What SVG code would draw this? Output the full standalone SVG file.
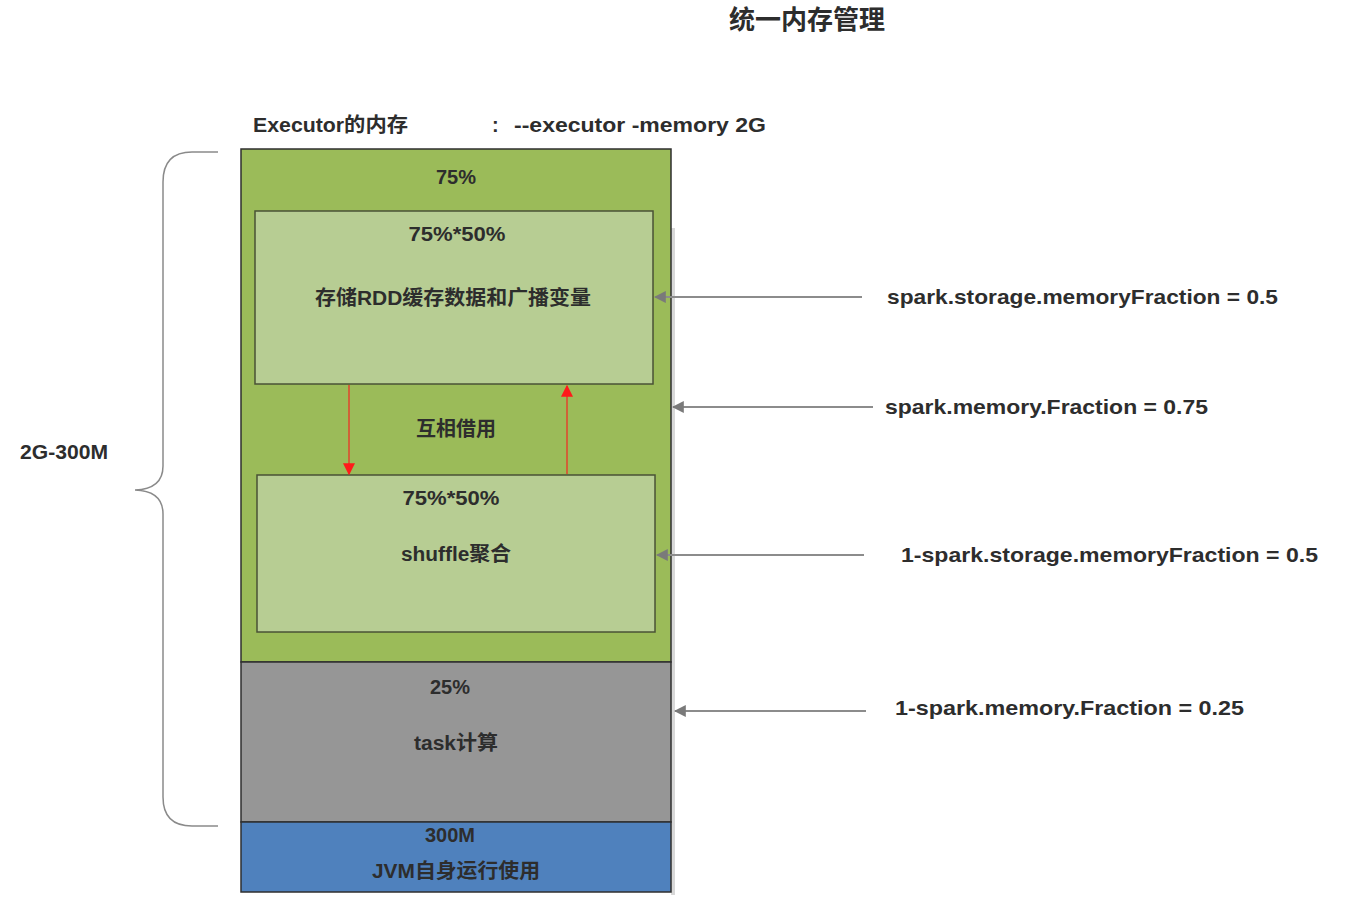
<svg xmlns="http://www.w3.org/2000/svg" width="1362" height="902" viewBox="0 0 1362 902">
<style>
text{font-family:"Liberation Sans","Noto Sans CJK SC",sans-serif;font-weight:bold;fill:#2d2d2d;font-size:20px}
.c{text-anchor:middle}
.lbl{font-size:21px}
.sec{stroke:#2f2f2f;stroke-width:1.5}
.inner{fill:#B7CD93;stroke:#4a5236;stroke-width:1.5}
.ga{stroke:#8c8c8c;stroke-width:2;fill:none;marker-end:url(#ga)}
.ra{stroke:#e0442c;stroke-width:1.5;fill:none;marker-end:url(#ra)}
</style>
<defs>
<marker id="ga" viewBox="0 0 10 10" refX="9" refY="5" markerWidth="6" markerHeight="6" markerUnits="strokeWidth" orient="auto"><path d="M0,0 L10,5 L0,10 Z" fill="#7a7a7a"/></marker>
<marker id="ra" viewBox="0 0 10 10" refX="9" refY="5" markerWidth="8" markerHeight="8" markerUnits="strokeWidth" orient="auto"><path d="M0,0 L10,5 L0,10 Z" fill="#ff1a1a"/></marker>
</defs>
<rect width="1362" height="902" fill="#ffffff"/>
<text class="c" x="807" y="29" style="font-size:26px">统一内存管理</text>
<text x="253" y="132" textLength="155" lengthAdjust="spacingAndGlyphs">Executor的内存</text>
<text x="492" y="132">:</text>
<text x="514" y="132" textLength="252" lengthAdjust="spacingAndGlyphs">--executor -memory 2G</text>
<g id="brace">
<path d="M218,152 H192 Q163,152 163,182 V466 Q163,489 135,490 Q163,491 163,514 V797 Q163,826 192,826 H218" fill="none" stroke="#8a8a8a" stroke-width="1.5"/>
<text x="20" y="459" textLength="88" lengthAdjust="spacingAndGlyphs">2G-300M</text>
</g>
<rect x="671" y="228" width="4" height="667" fill="#d8d8d8"/>
<g id="executionStorage">
<rect class="sec" x="241" y="149" width="430" height="513" fill="#9BBB59"/>
<text class="c" x="456" y="184">75%</text>
</g>
<g id="storage">
<rect class="inner" x="255" y="211" width="398" height="173"/>
<text class="c" x="457" y="241" textLength="97" lengthAdjust="spacingAndGlyphs">75%*50%</text>
<text class="c" x="453" y="305" textLength="276" lengthAdjust="spacingAndGlyphs">存储RDD缓存数据和广播变量</text>
</g>
<text id="borrow" class="c" x="456" y="436">互相借用</text>
<g id="shuffle">
<rect class="inner" x="257" y="475" width="398" height="157"/>
<text class="c" x="451" y="505" textLength="97" lengthAdjust="spacingAndGlyphs">75%*50%</text>
<text class="c" x="456" y="561" textLength="110" lengthAdjust="spacingAndGlyphs">shuffle聚合</text>
</g>
<g id="task">
<rect class="sec" x="241" y="662" width="430" height="160" fill="#969696"/>
<text class="c" x="450" y="694">25%</text>
<text class="c" x="456" y="750" textLength="84" lengthAdjust="spacingAndGlyphs">task计算</text>
</g>
<g id="jvm">
<rect class="sec" x="241" y="822" width="430" height="70" fill="#4F81BD"/>
<text class="c" x="450" y="842">300M</text>
<text class="c" x="456" y="878" textLength="168" lengthAdjust="spacingAndGlyphs">JVM自身运行使用</text>
</g>
<g id="connectors">
<line class="ra" x1="349" y1="385" x2="349" y2="474"/>
<line class="ra" x1="567" y1="474" x2="567" y2="386"/>
<line class="ga" x1="862" y1="297" x2="655" y2="297"/>
<line class="ga" x1="873" y1="407" x2="673" y2="407"/>
<line class="ga" x1="864" y1="555" x2="657" y2="555"/>
<line class="ga" x1="866" y1="711" x2="675" y2="711"/>
</g>
<g id="labels">
<text class="lbl" x="887" y="304" textLength="391" lengthAdjust="spacingAndGlyphs">spark.storage.memoryFraction = 0.5</text>
<text class="lbl" x="885" y="414" textLength="323" lengthAdjust="spacingAndGlyphs">spark.memory.Fraction = 0.75</text>
<text class="lbl" x="901" y="562" textLength="417" lengthAdjust="spacingAndGlyphs">1-spark.storage.memoryFraction = 0.5</text>
<text class="lbl" x="895" y="715" textLength="349" lengthAdjust="spacingAndGlyphs">1-spark.memory.Fraction = 0.25</text>
</g>
</svg>
